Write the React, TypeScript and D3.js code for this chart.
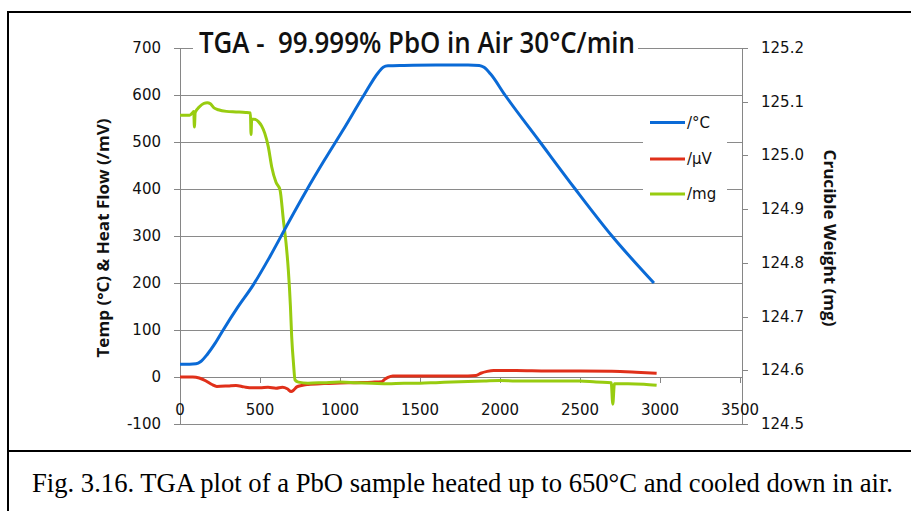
import React from "react";
import * as d3 from "d3";

// ---- data (time in s) ----
const tempData: [number, number][] = [
  [0, 27], [60, 27], [100, 28], [130, 33], [170, 48], [220, 72], [270, 100],
  [360, 148], [458, 196], [560, 255], [680, 330], [792, 398], [900, 460],
  [1020, 526], [1150, 600], [1240, 648], [1270, 659], [1300, 662], [1400, 663],
  [1600, 664], [1800, 664], [1870, 663], [1900, 659], [1940, 645], [2031, 600],
  [2250, 500], [2470, 400], [2700, 300], [2962, 200],
];

const heatFlowData: [number, number][] = [
  [0, 0], [80, 0], [120, -2], [160, -8], [200, -16], [230, -20], [300, -19],
  [350, -18], [400, -21], [450, -23], [500, -23], [550, -22], [600, -24],
  [640, -22], [670, -25], [695, -31], [710, -28], [730, -21], [760, -18],
  [800, -16], [900, -14], [1000, -13], [1100, -12], [1200, -11], [1260, -10],
  [1280, -5], [1300, -1], [1330, 2], [1400, 2], [1500, 2], [1600, 2],
  [1700, 2], [1800, 2], [1850, 3], [1880, 8], [1920, 12], [1960, 14],
  [2100, 14], [2300, 13], [2500, 13], [2700, 12], [2850, 10], [2979, 8],
];

const weightData: [number, number][] = [
  [0, 125.075], [60, 125.075], [80, 125.08], [86, 125.082], [90, 125.053],
  [95, 125.08], [120, 125.09], [150, 125.097], [170, 125.098], [190, 125.096],
  [215, 125.088], [240, 125.085], [290, 125.082], [350, 125.081], [410, 125.08],
  [440, 125.079], [444, 125.039], [448, 125.068], [470, 125.067], [490, 125.063],
  [510, 125.055], [530, 125.041], [552, 125.016], [573, 124.979], [600, 124.95],
  [625, 124.936], [646, 124.88], [665, 124.83], [677, 124.787], [690, 124.72],
  [698, 124.663], [710, 124.61], [719, 124.582], [740, 124.578], [800, 124.576],
  [900, 124.577], [1000, 124.578], [1100, 124.577], [1200, 124.576], [1300, 124.575],
  [1400, 124.576], [1500, 124.576], [1600, 124.577], [1700, 124.578], [1800, 124.579],
  [1900, 124.58], [2000, 124.581], [2100, 124.58], [2200, 124.58], [2300, 124.58],
  [2400, 124.58], [2500, 124.58], [2600, 124.578], [2695, 124.577], [2705, 124.537],
  [2715, 124.575], [2800, 124.575], [2900, 124.574], [2979, 124.572],
];

const xTicks = [0, 500, 1000, 1500, 2000, 2500, 3000, 3500];
const leftTicks = [-100, 0, 100, 200, 300, 400, 500, 600, 700];
const rightTicks = [124.5, 124.6, 124.7, 124.8, 124.9, 125.0, 125.1, 125.2];

const legendItems = [
  { label: "/°C", color: "#0a6ad6" },
  { label: "/µV", color: "#e0301a" },
  { label: "/mg", color: "#98cc10" },
];

const title = "TGA -  99.999% PbO in Air 30°C/min";
const leftTitle = "Temp (°C) & Heat Flow (/mV)";
const rightTitle = "Crucible Weight (mg)";
const caption = "Fig. 3.16. TGA plot of a PbO sample heated up to 650°C and cooled down in air.";

export default function App() {
  const W = 911, H = 511;
  const left = 180, right = 740, top = 48, bottom = 424;
  const x = d3.scaleLinear().domain([0, 3500]).range([left, right]);
  const yL = d3.scaleLinear().domain([-100, 700]).range([bottom, top]);
  const yR = d3.scaleLinear().domain([124.5, 125.2]).range([bottom, top]);

  const lineR = d3.line<[number, number]>().x(d => x(d[0])).y(d => yR(d[1])).curve(d3.curveMonotoneX);
  const lineL = d3.line<[number, number]>().x(d => x(d[0])).y(d => yL(d[1])).curve(d3.curveMonotoneX);

  const axisColor = "#868686";
  const gridColor = "#8a8a8a";
  const tickFont = "'DejaVu Sans', Verdana, sans-serif";
  const y0 = yL(0);

  return (
    <svg width={W} height={H} viewBox={`0 0 ${W} ${H}`}
      style={{ position: "absolute", left: 0, top: 0, background: "#fff" }}>
      <rect x={0} y={0} width={W} height={H} fill="#fff" />
      {/* frame */}
      <line x1={8} y1={12} x2={W} y2={12} stroke="#000" strokeWidth={2} />
      <line x1={8} y1={11} x2={8} y2={H} stroke="#000" strokeWidth={2} />
      <line x1={8} y1={451} x2={W} y2={451} stroke="#000" strokeWidth={2} />

      {/* gridlines */}
      {leftTicks.filter(t => t !== 0).map(t => (
        <line key={"g" + t} x1={left} x2={right + 2} y1={Math.round(yL(t)) + 0.5} y2={Math.round(yL(t)) + 0.5}
          stroke={gridColor} strokeWidth={1} />
      ))}

      {/* left axis */}
      <line x1={left + 0.5} x2={left + 0.5} y1={top} y2={bottom} stroke={axisColor} strokeWidth={1} />
      {leftTicks.map(t => (
        <g key={"lt" + t}>
          <line x1={left - 6} x2={left} y1={Math.round(yL(t)) + 0.5} y2={Math.round(yL(t)) + 0.5} stroke={axisColor} />
          <text x={161} y={yL(t) + 5} textAnchor="end" fontFamily={tickFont} fontSize={15} fill="#111">{t}</text>
        </g>
      ))}

      {/* right axis */}
      <line x1={right + 2.5} x2={right + 2.5} y1={top} y2={bottom} stroke={axisColor} strokeWidth={1} />
      {rightTicks.map(t => (
        <g key={"rt" + t}>
          <line x1={right + 2} x2={right + 8} y1={Math.round(yR(t)) + 0.5} y2={Math.round(yR(t)) + 0.5} stroke={axisColor} />
          <text x={761} y={yR(t) + 5} textAnchor="start" fontFamily={tickFont} fontSize={15} fill="#111">{t.toFixed(1)}</text>
        </g>
      ))}

      {/* x axis at 0 */}
      <line x1={left} x2={right + 2} y1={Math.round(y0) + 0.5} y2={Math.round(y0) + 0.5} stroke={axisColor} />
      {xTicks.map(t => (
        <g key={"xt" + t}>
          <line x1={Math.round(x(t)) + 0.5} x2={Math.round(x(t)) + 0.5} y1={y0} y2={y0 + 6} stroke={axisColor} />
          <text x={x(t)} y={415} textAnchor="middle" fontFamily={tickFont} fontSize={15} fill="#111">{t}</text>
        </g>
      ))}

      {/* series */}
      <path d={lineL(heatFlowData) || ""} fill="none" stroke={legendItems[1].color} strokeWidth={3} strokeLinejoin="round" />
      <path d={lineR(weightData) || ""} fill="none" stroke={legendItems[2].color} strokeWidth={3} strokeLinejoin="round" />
      <path d={lineL(tempData) || ""} fill="none" stroke={legendItems[0].color} strokeWidth={3} strokeLinejoin="round" />

      {/* title */}
      <rect x={193} y={28} width={445} height={34} fill="#fff" />
      <text x={199} y={53} fontFamily="'Open Sans', sans-serif" fontWeight={600} fontSize={28}
        textLength={436} lengthAdjust="spacingAndGlyphs" fill="#111" style={{ whiteSpace: "pre" }}>{title}</text>

      {/* legend */}
      <rect x={643} y={106} width={84} height={104} fill="#fff" />
      {legendItems.map((it, i) => {
        const ly = [122.5, 159, 194][i];
        return (
          <g key={it.label}>
            <line x1={650} x2={685} y1={ly} y2={ly} stroke={it.color} strokeWidth={3} />
            <text x={687} y={ly + 5} fontFamily={tickFont} fontSize={15} fill="#111">{it.label}</text>
          </g>
        );
      })}

      {/* axis titles */}
      <text transform="translate(109,238) rotate(-90)" textAnchor="middle" fontFamily="'Open Sans', sans-serif"
        fontWeight={700} fontSize={16} textLength={239} lengthAdjust="spacingAndGlyphs" fill="#111">{leftTitle}</text>
      <text transform="translate(824,238) rotate(90)" textAnchor="middle" fontFamily="'Open Sans', sans-serif"
        fontWeight={700} fontSize={16} textLength={177} lengthAdjust="spacingAndGlyphs" fill="#111">{rightTitle}</text>

      {/* caption */}
      <text x={32} y={492} fontFamily="'Liberation Serif', 'Times New Roman', serif" fontSize={27}
        textLength={861} lengthAdjust="spacingAndGlyphs" fill="#000">{caption}</text>
    </svg>
  );
}
